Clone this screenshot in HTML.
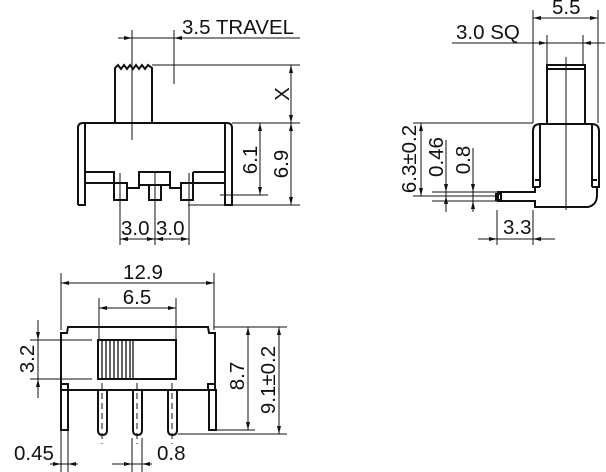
<!DOCTYPE html>
<html><head><meta charset="utf-8"><style>
html,body{margin:0;padding:0;background:#fff;}
svg{display:block;}
text{font-family:"Liberation Sans",Arial,sans-serif;font-size:20.5px;fill:#111;}
</style></head><body>
<svg width="606" height="472" viewBox="0 0 606 472" xmlns="http://www.w3.org/2000/svg">
<g stroke="#111" stroke-width="1" fill="none">
<line x1="118" y1="38" x2="300" y2="38"/>
<line x1="132" y1="30" x2="132" y2="140"/>
<line x1="174" y1="30" x2="174" y2="84"/>
<line x1="152" y1="65" x2="300" y2="65"/>
<line x1="291" y1="65" x2="291" y2="205"/>
<line x1="232" y1="123" x2="300" y2="123"/>
<line x1="260" y1="123" x2="260" y2="195"/>
<line x1="220" y1="195" x2="268" y2="195"/>
<line x1="188" y1="205" x2="300" y2="205"/>
<line x1="120" y1="173" x2="120" y2="245"/>
<line x1="155" y1="173" x2="155" y2="245"/>
<line x1="189" y1="173" x2="189" y2="245"/>
<line x1="120" y1="239" x2="189" y2="239"/>
</g>
<g stroke="#111" stroke-width="2" fill="none" stroke-linejoin="miter">
<path d="M115,123 V68 L118,65 L121,69 L124,65 L127,69 L130,65 L133,69 L136,65 L139,69 L142,65 L145,69 L148,65 L152,68 V123"/>
<path d="M78,205 V128 Q78,123 83,123 H227 Q232,123 232,128 V205 H225 V124"/>
<path d="M78,205 H85 V124"/>
<path d="M85,172 H114 V183 M85,183 H114"/>
<path d="M114,183 H127 V200 H114 Z M127,188 H139 V172 H170 V188 H181 M149,185 H161 V200 H149 Z M181,183 H193 V200 H181 Z M193,172 H225 M193,183 H225 M193,172 V183"/>
<path d="M139,185 H170"/>
</g>
<g fill="#111">
<polygon points="132,38 124,36 124,40"/>
<polygon points="174,38 182,36 182,40"/>
<polygon points="291,65 289,73 293,73"/>
<polygon points="291,123 289,115 293,115"/>
<polygon points="291,123 289,131 293,131"/>
<polygon points="291,205 289,197 293,197"/>
<polygon points="260,123 258,131 262,131"/>
<polygon points="260,195 258,187 262,187"/>
<polygon points="120,239 128,237 128,241"/>
<polygon points="155,239 147,237 147,241"/>
<polygon points="155,239 163,237 163,241"/>
<polygon points="189,239 181,237 181,241"/>
</g>
<text x="182" y="34">3.5 TRAVEL</text>
<text x="121" y="235">3.0</text>
<text x="156" y="235">3.0</text>
<text transform="translate(289,94) rotate(-90)" text-anchor="middle">X</text>
<text transform="translate(257,160) rotate(-90)" text-anchor="middle">6.1</text>
<text transform="translate(288,164) rotate(-90)" text-anchor="middle">6.9</text>

<g stroke="#111" stroke-width="1" fill="none">
<line x1="533" y1="18" x2="598" y2="18"/>
<line x1="533" y1="10" x2="533" y2="123"/>
<line x1="598" y1="10" x2="598" y2="123"/>
<line x1="452" y1="43" x2="605" y2="43"/>
<line x1="547" y1="35" x2="547" y2="65"/>
<line x1="583" y1="35" x2="583" y2="65"/>
<line x1="566" y1="57" x2="566" y2="210"/>
<line x1="413" y1="123" x2="533" y2="123"/>
<line x1="421" y1="123" x2="421" y2="196"/>
<line x1="413" y1="196" x2="497" y2="196"/>
<line x1="432" y1="192" x2="497" y2="192"/>
<line x1="432" y1="201" x2="497" y2="201"/>
<line x1="446" y1="140" x2="446" y2="212"/>
<line x1="473" y1="148" x2="473" y2="212"/>
<line x1="497" y1="210" x2="497" y2="245"/>
<line x1="533" y1="210" x2="533" y2="245"/>
<line x1="478" y1="239" x2="555" y2="239"/>
</g>
<g stroke="#111" stroke-width="2" fill="none">
<path d="M547,123 V65 H585 V123"/>
<path d="M547,69 H585"/>
<path d="M540,187 V124 H592 V187"/>
<path d="M540,124 Q533,124 533,131 V187 H540 M592,124 Q599,124 599,131 V187 H592"/>
<path d="M535,180 H540 M592,180 H597"/>
<path d="M535,187 V192 H498 V201 H535 V207 H588 Q597,205 597,195 V187"/>
<path d="M496,194 H501 V200 H496 Z"/>
</g>
<g fill="#111">
<polygon points="533,18 541,16 541,20"/>
<polygon points="598,18 590,16 590,20"/>
<polygon points="547,43 539,41 539,45"/>
<polygon points="583,43 591,41 591,45"/>
<polygon points="421,123 419,131 423,131"/>
<polygon points="421,196 419,188 423,188"/>
<polygon points="446,192 444,184 448,184"/>
<polygon points="446,196 444,204 448,204"/>
<polygon points="473,192 471,184 475,184"/>
<polygon points="473,201 471,209 475,209"/>
<polygon points="497,239 489,237 489,241"/>
<polygon points="533,239 541,237 541,241"/>
</g>
<text x="552" y="14">5.5</text>
<text x="456" y="39">3.0 SQ</text>
<text x="503" y="234">3.3</text>
<text transform="translate(416,159) rotate(-90)" text-anchor="middle">6.3±0.2</text>
<text transform="translate(443,157) rotate(-90)" text-anchor="middle">0.46</text>
<text transform="translate(470,160) rotate(-90)" text-anchor="middle">0.8</text>

<g stroke="#111" stroke-width="1" fill="none">
<line x1="61" y1="283" x2="214" y2="283"/>
<line x1="61" y1="273" x2="61" y2="330"/>
<line x1="214" y1="273" x2="214" y2="330"/>
<line x1="99" y1="308" x2="176" y2="308"/>
<line x1="99" y1="298" x2="99" y2="340"/>
<line x1="176" y1="298" x2="176" y2="340"/>
<line x1="30" y1="340" x2="92" y2="340"/>
<line x1="30" y1="379" x2="92" y2="379"/>
<line x1="38" y1="320" x2="38" y2="398"/>
<line x1="214" y1="327" x2="287" y2="327"/>
<line x1="217" y1="430" x2="255" y2="430"/>
<line x1="178" y1="434" x2="287" y2="434"/>
<line x1="248" y1="327" x2="248" y2="430"/>
<line x1="279" y1="327" x2="279" y2="434"/>
<line x1="61" y1="430" x2="61" y2="472"/>
<line x1="68" y1="430" x2="68" y2="472"/>
<line x1="50" y1="464" x2="78" y2="464"/>
<line x1="132" y1="438" x2="132" y2="472"/>
<line x1="142" y1="438" x2="142" y2="472"/>
<line x1="112" y1="464" x2="152" y2="464"/>
<line x1="102" y1="383" x2="102" y2="444" stroke-dasharray="6,4"/>
<line x1="137" y1="383" x2="137" y2="444" stroke-dasharray="6,4"/>
<line x1="172" y1="383" x2="172" y2="444" stroke-dasharray="6,4"/>
</g>
<g stroke="#111" stroke-width="2" fill="none">
<path d="M61,390 V333 H67 L68,327 H208 L209,333 H215 V390 Z"/>
<rect x="98" y="340" width="78" height="39"/>
<path d="M61,384 H68 V390 M215,384 H208 V390"/>
<rect x="61" y="390" width="7" height="40"/>
<rect x="209" y="390" width="7" height="40"/>
<path d="M98,391 V430 Q98,435 102.5,435 Q107,435 107,430 V391"/>
<path d="M133,391 V430 Q133,435 137.5,435 Q142,435 142,430 V391"/>
<path d="M168,391 V430 Q168,435 172.5,435 Q177,435 177,430 V391"/>
</g>
<g stroke="#111" stroke-width="1.3">
<line x1="133" y1="340" x2="133" y2="379"/>
<line x1="102" y1="340" x2="102" y2="379"/>
<line x1="106" y1="340" x2="106" y2="379"/>
<line x1="110" y1="340" x2="110" y2="379"/>
<line x1="114" y1="340" x2="114" y2="379"/>
<line x1="118" y1="340" x2="118" y2="379"/>
<line x1="122" y1="340" x2="122" y2="379"/>
<line x1="126" y1="340" x2="126" y2="379"/>
<line x1="130" y1="340" x2="130" y2="379"/>
</g>
<g fill="#111">
<polygon points="61,283 69,281 69,285"/>
<polygon points="214,283 206,281 206,285"/>
<polygon points="99,308 107,306 107,310"/>
<polygon points="176,308 168,306 168,310"/>
<polygon points="38,340 36,332 40,332"/>
<polygon points="38,379 36,387 40,387"/>
<polygon points="248,327 246,335 250,335"/>
<polygon points="248,430 246,422 250,422"/>
<polygon points="279,327 277,335 281,335"/>
<polygon points="279,434 277,426 281,426"/>
<polygon points="61,464 53,462 53,466"/>
<polygon points="68,464 76,462 76,466"/>
<polygon points="132,464 124,462 124,466"/>
<polygon points="142,464 150,462 150,466"/>
</g>
<text x="143" y="279" text-anchor="middle">12.9</text>
<text x="137" y="304" text-anchor="middle">6.5</text>
<text x="14" y="460">0.45</text>
<text x="157" y="460">0.8</text>
<text transform="translate(34,359) rotate(-90)" text-anchor="middle">3.2</text>
<text transform="translate(244,376) rotate(-90)" text-anchor="middle">8.7</text>
<text transform="translate(275,380) rotate(-90)" text-anchor="middle">9.1±0.2</text>
</svg>
</body></html>
